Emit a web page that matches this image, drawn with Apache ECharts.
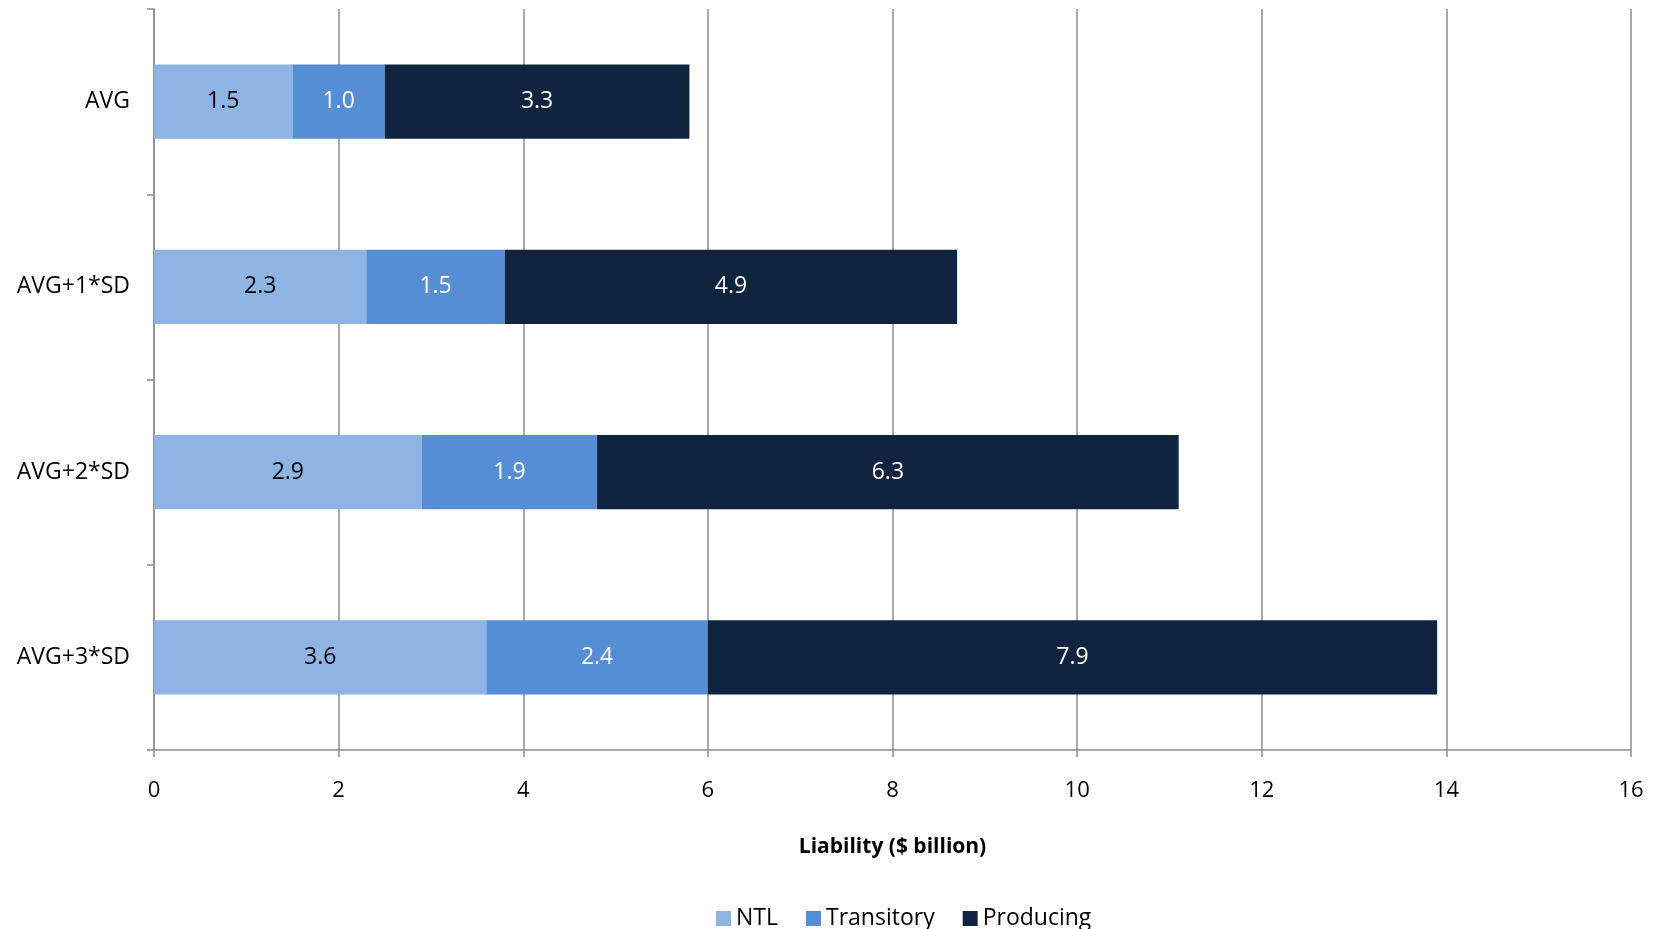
<!DOCTYPE html>
<html>
<head>
<meta charset="utf-8">
<script src="https://cdn.jsdelivr.net/npm/echarts@6/dist/echarts.min.js"></script>
<style>
  html, body { margin: 0; padding: 0; background: #fff; }
  #chart { width: 1659px; height: 929px; }
</style>
</head>
<body>
<div id="chart"></div>
<script>
// Scenario categories (top to bottom)
const categories = ['AVG', 'AVG+1*SD', 'AVG+2*SD', 'AVG+3*SD'];

// Liability components, $ billion
const ntl = [1.5, 2.3, 2.9, 3.6];
const transitory = [1.0, 1.5, 1.9, 2.4];
const producing = [3.3, 4.9, 6.3, 7.9];

const seriesNames = ['NTL', 'Transitory', 'Producing'];
const xTicks = { min: 0, max: 16, interval: 2 };
const axisTitle = 'Liability ($ billion)';

const FONT = '"Open Sans", "Noto Sans", sans-serif';
const gridColor = '#8c8c8c';

function barSeries(name, data, color, labelColor) {
  return {
    name: name,
    type: 'bar',
    stack: 'total',
    data: data,
    barCategoryGap: '60%',
    itemStyle: { color: color },
    label: {
      show: true,
      position: 'inside',
      color: labelColor,
      fontFamily: FONT,
      fontSize: 23,
      formatter: p => p.value.toFixed(1)
    },
    emphasis: { disabled: true }
  };
}

const chart = echarts.init(document.getElementById('chart'), null, { renderer: 'canvas' });
chart.setOption({
  animation: false,
  backgroundColor: '#ffffff',
  textStyle: { fontFamily: FONT },
  grid: { left: 154, right: 28, top: 9, bottom: 179, containLabel: false },
  legend: {
    top: 902,
    left: 711,
    icon: 'rect',
    itemWidth: 15,
    itemHeight: 15,
    itemGap: 28,
    textStyle: { fontFamily: FONT, fontSize: 23, color: '#000' },
    data: seriesNames
  },
  xAxis: {
    type: 'value',
    min: xTicks.min,
    max: xTicks.max,
    interval: xTicks.interval,
    name: axisTitle,
    nameLocation: 'middle',
    nameGap: 87,
    nameTextStyle: { fontFamily: FONT, fontSize: 21, fontWeight: 'bold', color: '#000' },
    axisLine: { show: true, lineStyle: { color: gridColor, width: 1.5 } },
    axisTick: { show: true, length: 7, lineStyle: { color: gridColor, width: 1.5 } },
    axisLabel: { fontFamily: FONT, fontSize: 22, color: '#000', margin: 30 },
    splitLine: { show: true, lineStyle: { color: gridColor, width: 1.5 } }
  },
  yAxis: {
    type: 'category',
    data: categories,
    inverse: true,
    axisLine: { show: true, lineStyle: { color: gridColor, width: 1.5 } },
    axisTick: { show: true, length: 7, lineStyle: { color: gridColor, width: 1.5 } },
    axisLabel: { fontFamily: FONT, fontSize: 23, color: '#000', margin: 24 },
    splitLine: { show: false }
  },
  series: [
    barSeries(seriesNames[0], ntl, '#8eb4e3', '#000000'),
    barSeries(seriesNames[1], transitory, '#558ed5', '#ffffff'),
    barSeries(seriesNames[2], producing, '#10243f', '#ffffff')
  ]
});
</script>
</body>
</html>
